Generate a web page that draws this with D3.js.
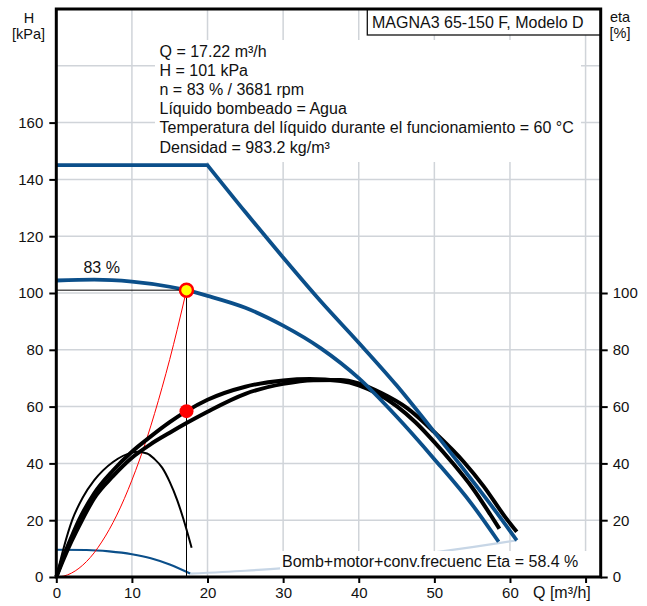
<!DOCTYPE html>
<html>
<head>
<meta charset="utf-8">
<script src="https://cdn.jsdelivr.net/npm/d3@7"></script>
<style>
  html, body { margin: 0; padding: 0; background: #fff; }
  svg { display: block; font-family: "Liberation Sans", Arial, sans-serif; }
</style>
</head>
<body>
<svg id="chart" width="647" height="606"></svg>
<script>
// ---------- data ----------
const qTicks = [0, 10, 20, 30, 40, 50, 60, 70];
const hTicks = [0, 20, 40, 60, 80, 100, 120, 140, 160];
const hGrid = [20, 40, 60, 80, 100, 120, 140, 160, 180];
const etaTicks = [0, 20, 40, 60, 80, 100];

// H curve, max speed (kPa): flat part, then falling part
const qMaxFlat = [0, 20];
const hMaxFlat = [145, 145];
const qMax = [20, 25, 30, 35, 40, 45, 50, 55, 58.7, 60.9];
const hMax = [145, 128.5, 112.5, 97, 82.5, 67.5, 51, 34, 21, 12.9];
// H curve, 83 % speed
const q83 = [0, 5, 10, 15, 17.22, 20, 25, 30, 35, 40, 45, 50, 55, 58.5];
const h83 = [104.4, 104.7, 104, 102.2, 101, 99, 94.8, 88.5, 80.5, 70, 56.5, 41.5, 25.5, 12.4];
// H curve, min speed
const qMin = [0, 4, 7, 10, 12.5, 15, 17.7];
const hMin = [9.6, 9.5, 9.0, 8.0, 6.6, 4.4, 1.2];
// lower limit (light blue)
const qLim = [17.7, 25, 30, 35, 40, 45, 50, 55, 58.5, 60.9];
const hLim = [1.2, 2.2, 3.1, 4.3, 5.6, 7.0, 8.7, 10.5, 11.9, 12.9];
// system curve (red)
const qSys = [0, 1, 2, 3, 4, 5, 6, 7, 8, 9, 10, 11, 12, 13, 14, 15, 16, 17.22];
const hSys = [0, 0.34, 1.36, 3.07, 5.45, 8.5, 12.3, 16.7, 21.8, 27.6, 34.1, 41.2, 49, 57.6, 66.8, 76.6, 87.2, 101];
// eta, 83 % speed (%)
const qEta83 = [0, 1, 2, 3, 5, 7.5, 10, 12.5, 15, 17.22, 20, 25, 30, 33.5, 37.6, 40, 42.5, 45.1, 47.5, 50, 52.3, 55, 57.4, 58.6];
const eEta83 = [0, 7.5, 14, 20, 29.4, 37.5, 44.1, 49.5, 54.5, 58.4, 62.4, 67, 69.2, 69.7, 69, 67.5, 64.5, 60, 54.5, 47.5, 40.5, 31.5, 22, 17];
// eta, max speed
const qEtaMax = [0, 1, 2, 3.4, 5, 7.5, 10, 12.5, 15, 17.22, 20, 25, 30, 34, 37.6, 40, 43, 46.4, 50, 53.9, 56.5, 59.4, 60.9];
const eEtaMax = [0, 6.5, 12.5, 20, 27.7, 35.5, 42, 46.8, 50.8, 54.2, 58.2, 64.5, 68, 69.3, 69.4, 68.2, 64.8, 59.5, 51, 40.5, 32, 21, 15.9];
// eta, min speed (thin)
const qEtaMin = [0, 1, 2.1, 3.5, 5, 7.5, 10, 10.7, 12, 13, 14, 15, 16, 16.8, 17.9];
const eEtaMin = [0, 10.5, 20, 28, 34, 40.5, 43.8, 44.1, 43.5, 41.5, 38.5, 33.5, 27, 20.5, 10.3];

const dutyQ = 17.22, dutyH = 101, dutyEta = 58.4;
const infoLines = [
  "Q = 17.22 m\u00b3/h",
  "H = 101 kPa",
  "n = 83 % / 3681 rpm",
  "L\u00edquido bombeado = Agua",
  "Temperatura del l\u00edquido durante el funcionamiento = 60 \u00b0C",
  "Densidad = 983.2 kg/m\u00b3"
];
const titleText = "MAGNA3 65-150 F, Modelo D";
const etaText = "Bomb+motor+conv.frecuenc Eta = 58.4 %";
const speedLabel = "83 %";

// ---------- drawing ----------
const svg = d3.select("#chart");
const x = d3.scaleLinear().domain([0, 72]).range([56.3, 600.7]);
const y = d3.scaleLinear().domain([0, 200]).range([577, 9]);
const BLUE = "#0b4f8a";
const GRID = "#d0d4d9";

const zip = (a, b) => a.map((v, i) => [v, b[i]]);
const line = d3.line().x(d => x(d[0])).y(d => y(d[1])).curve(d3.curveMonotoneX);
const lineLin = d3.line().x(d => x(d[0])).y(d => y(d[1]));

// grid
const g = svg.append("g");
g.selectAll(".vg").data(qTicks.filter(d => d > 0)).join("line")
  .attr("x1", d => x(d)).attr("x2", d => x(d)).attr("y1", y(200)).attr("y2", y(0))
  .attr("stroke", GRID).attr("stroke-width", 1.5);
g.selectAll(".hg").data(hGrid).join("line")
  .attr("x1", x(0)).attr("x2", x(72)).attr("y1", d => y(d)).attr("y2", d => y(d))
  .attr("stroke", GRID).attr("stroke-width", 1.5);

// info block with white background
svg.append("rect").attr("x", 155).attr("y", 40).attr("width", 426).attr("height", 122).attr("fill", "#fff");
svg.append("g").selectAll("text").data(infoLines).join("text")
  .attr("x", 159.5).attr("y", (d, i) => 57 + i * 19.1)
  .attr("font-size", 16).attr("fill", "#111").text(d => d);

// title box
svg.append("rect").attr("x", 367.3).attr("y", 9).attr("width", 233.4).attr("height", 26)
  .attr("fill", "#fff").attr("stroke", "#111").attr("stroke-width", 1.3);
svg.append("text").attr("x", 372).attr("y", 27.5).attr("font-size", 16).attr("fill", "#111").text(titleText);

// curves
const curves = svg.append("g").attr("fill", "none");
curves.append("path").attr("d", line(zip(qLim, hLim))).attr("stroke", "#c7d6e6").attr("stroke-width", 2.2);
curves.append("path").attr("d", line(zip(qMin, hMin))).attr("stroke", BLUE).attr("stroke-width", 2.2);

// eta text box
svg.append("rect").attr("x", 280).attr("y", 551).attr("width", 320).attr("height", 25).attr("fill", "#fff");
svg.append("text").attr("x", 282).attr("y", 566.5).attr("font-size", 16).attr("fill", "#111").text(etaText);

const c2 = svg.append("g").attr("fill", "none");
c2.append("path").attr("d", line(zip(qSys, hSys))).attr("stroke", "#ff0000").attr("stroke-width", 1);
c2.append("path").attr("d", line(zip(qEtaMin, eEtaMin))).attr("stroke", "#000").attr("stroke-width", 2);
c2.append("path").attr("d", line(zip(qEtaMax, eEtaMax))).attr("stroke", "#000").attr("stroke-width", 4);
c2.append("path").attr("d", line(zip(qEta83, eEta83))).attr("stroke", "#000").attr("stroke-width", 4);
c2.append("path").attr("d", line(zip(q83, h83))).attr("stroke", BLUE).attr("stroke-width", 3.8);
c2.append("path").attr("d", lineLin(zip(qMaxFlat, hMaxFlat)) + line(zip(qMax, hMax)).replace(/^M/, "L"))
  .attr("stroke", BLUE).attr("stroke-width", 3.8).attr("stroke-linejoin", "miter");

// duty point guide lines
c2.append("path").attr("d", lineLin([[0, dutyH], [dutyQ, dutyH], [dutyQ, 0]]))
  .attr("stroke", "#000").attr("stroke-width", 1);

// markers
svg.append("circle").attr("cx", x(dutyQ)).attr("cy", y(dutyEta)).attr("r", 7).attr("fill", "#ff0000");
svg.append("circle").attr("cx", x(dutyQ)).attr("cy", y(dutyH)).attr("r", 6.5)
  .attr("fill", "#ffff00").attr("stroke", "#ff0000").attr("stroke-width", 2.5);

svg.append("text").attr("x", x(6)).attr("y", 273).attr("text-anchor", "middle")
  .attr("font-size", 16).attr("fill", "#111").text(speedLabel);

// axes
function styleAxis(sel) {
  sel.select(".domain").remove();
  sel.selectAll(".tick line").attr("stroke", "#000").attr("stroke-width", 2);
  sel.selectAll(".tick text").attr("font-size", 15).attr("fill", "#111")
    .attr("font-family", "'Liberation Sans', Arial, sans-serif");
}
svg.append("g").attr("transform", `translate(${x(0)},0)`)
  .call(d3.axisLeft(y).tickValues(hTicks).tickSize(7).tickPadding(6).tickFormat(d3.format("d")))
  .call(styleAxis);
svg.append("g").attr("transform", `translate(${x(72)},0)`)
  .call(d3.axisRight(y).tickValues(etaTicks).tickSize(7).tickPadding(5).tickFormat(d3.format("d")))
  .call(styleAxis);
svg.append("g").attr("transform", `translate(0,${y(0)})`)
  .call(d3.axisBottom(x).tickValues(qTicks).tickSize(6).tickPadding(4).tickFormat(d => d === 70 ? "" : d))
  .call(styleAxis);

// frame
svg.append("path")
  .attr("d", `M${x(0)},${y(0)}V${y(200)}H${x(72)}V${y(0)}Z`)
  .attr("fill", "none").attr("stroke", "#000").attr("stroke-width", 3);

// axis titles
const at = svg.append("g").attr("font-size", 14.5).attr("fill", "#111").attr("text-anchor", "middle");
at.append("text").attr("x", 29).attr("y", 22.5).text("H");
at.append("text").attr("x", 28.5).attr("y", 39).text("[kPa]");
at.append("text").attr("x", 620).attr("y", 21.5).text("eta");
at.append("text").attr("x", 620).attr("y", 38).text("[%]");
svg.append("text").attr("x", 533).attr("y", 598).attr("font-size", 16).attr("fill", "#111").text("Q [m\u00b3/h]");
</script>
</body>
</html>
